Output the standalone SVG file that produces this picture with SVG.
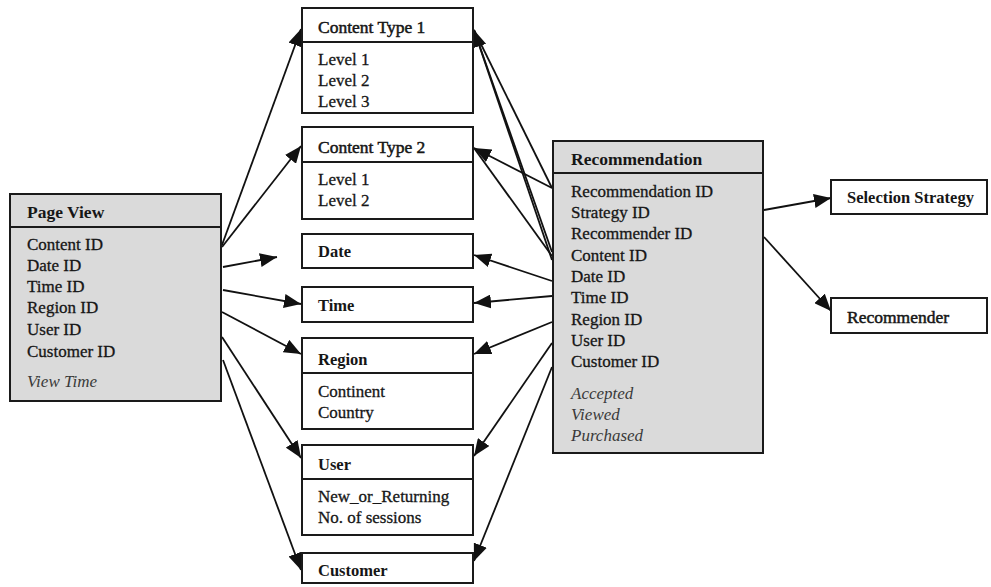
<svg xmlns="http://www.w3.org/2000/svg" width="991" height="587" viewBox="0 0 991 587">
  <style>
    .box { fill: #ffffff; stroke: #1a1a1a; stroke-width: 2; }
    .fact { fill: #dadada; stroke: #1a1a1a; stroke-width: 2; }
    .div { stroke: #1a1a1a; stroke-width: 2; }
    text { font-family: "Liberation Serif", "Times New Roman", serif; fill: #161616; }
    .hd { font-size: 16.5px; font-weight: bold; }
    .hdm { font-size: 17.5px; stroke: #161616; stroke-width: 0.5; }
    .hdl { font-size: 17.5px; font-weight: bold; }
    .at { font-size: 17px; stroke: #161616; stroke-width: 0.3; }
    .me { font-size: 17px; font-style: italic; fill: #3a3a3a; }
    .edge { fill: none; stroke: #111111; stroke-width: 1.8; }
  </style>
  <defs>
    <marker id="arrow" markerUnits="userSpaceOnUse" markerWidth="18" markerHeight="14" refX="17" refY="7" orient="auto">
      <path d="M0,0 L17,7 L0,14 z" fill="#111111"/>
    </marker>
  </defs>
  <rect width="991" height="587" fill="#ffffff"/>

  <g id="connectors">
    <!-- Page View to dimensions -->
    <path class="edge" d="M222,245 L301,29" marker-end="url(#arrow)"/>
    <path class="edge" d="M222,247 L301,146" marker-end="url(#arrow)"/>
    <path class="edge" d="M223,267 L277,257" marker-end="url(#arrow)"/>
    <path class="edge" d="M223,290 L301,304" marker-end="url(#arrow)"/>
    <path class="edge" d="M222,312 L301,354" marker-end="url(#arrow)"/>
    <path class="edge" d="M222,337 L301,458" marker-end="url(#arrow)"/>
    <path class="edge" d="M223,360 L301,570" marker-end="url(#arrow)"/>
    <!-- Recommendation to dimensions -->
    <path class="edge" d="M552,188 L474,30"/>
    <path class="edge" d="M552,252 L474,30"/>
    <path class="edge" d="M552,260 L474,30" marker-end="url(#arrow)"/>
    <path class="edge" d="M552,188 L474,148" marker-end="url(#arrow)"/>
    <path class="edge" d="M552,256 L474,148"/>
    <path class="edge" d="M552,281 L474,255" marker-end="url(#arrow)"/>
    <path class="edge" d="M552,296 L474,303" marker-end="url(#arrow)"/>
    <path class="edge" d="M552,322 L474,354" marker-end="url(#arrow)"/>
    <path class="edge" d="M552,343 L474,456" marker-end="url(#arrow)"/>
    <path class="edge" d="M552,367 L474,561" marker-end="url(#arrow)"/>
    <path class="edge" d="M764,210 L831,198" marker-end="url(#arrow)"/>
    <path class="edge" d="M764,237 L831,311" marker-end="url(#arrow)"/>
  </g>

  <g id="page-view">
    <rect class="fact" x="10" y="194" width="211" height="207"/>
    <line class="div" x1="10" y1="227" x2="221" y2="227"/>
    <text class="hdl" x="27" y="218">Page View</text>
    <text class="at" x="27" y="250">Content ID</text>
    <text class="at" x="27" y="271">Date ID</text>
    <text class="at" x="27" y="292">Time ID</text>
    <text class="at" x="27" y="313">Region ID</text>
    <text class="at" x="27" y="335">User ID</text>
    <text class="at" x="27" y="357">Customer ID</text>
    <text class="me" x="27" y="387">View Time</text>
  </g>

  <g id="content-type-1">
    <rect class="box" x="302" y="8" width="171" height="105"/>
    <line class="div" x1="302" y1="42" x2="473" y2="42"/>
    <text class="hdm" x="318" y="33">Content Type 1</text>
    <text class="at" x="318" y="65">Level 1</text>
    <text class="at" x="318" y="86">Level 2</text>
    <text class="at" x="318" y="107">Level 3</text>
  </g>

  <g id="content-type-2">
    <rect class="box" x="302" y="127" width="171" height="92"/>
    <line class="div" x1="302" y1="162" x2="473" y2="162"/>
    <text class="hdm" x="318" y="153">Content Type 2</text>
    <text class="at" x="318" y="185">Level 1</text>
    <text class="at" x="318" y="206">Level 2</text>
  </g>

  <g id="date">
    <rect class="box" x="302" y="234" width="171" height="34"/>
    <text class="hd" x="318" y="257">Date</text>
  </g>

  <g id="time">
    <rect class="box" x="302" y="287" width="171" height="35"/>
    <text class="hd" x="318" y="311">Time</text>
  </g>

  <g id="region">
    <rect class="box" x="302" y="338" width="171" height="91"/>
    <line class="div" x1="302" y1="373" x2="473" y2="373"/>
    <text class="hd" x="318" y="365">Region</text>
    <text class="at" x="318" y="397">Continent</text>
    <text class="at" x="318" y="418">Country</text>
  </g>

  <g id="user">
    <rect class="box" x="302" y="445" width="171" height="90"/>
    <line class="div" x1="302" y1="479" x2="473" y2="479"/>
    <text class="hd" x="318" y="470">User</text>
    <text class="at" x="318" y="502">New_or_Returning</text>
    <text class="at" x="318" y="523">No. of sessions</text>
  </g>

  <g id="customer">
    <rect class="box" x="302" y="553" width="171" height="30"/>
    <text class="hd" x="318" y="576">Customer</text>
  </g>

  <g id="recommendation">
    <rect class="fact" x="553" y="141" width="210" height="312"/>
    <line class="div" x1="553" y1="173" x2="763" y2="173"/>
    <text class="hdl" x="571" y="165">Recommendation</text>
    <text class="at" x="571" y="197">Recommendation ID</text>
    <text class="at" x="571" y="218">Strategy ID</text>
    <text class="at" x="571" y="239">Recommender ID</text>
    <text class="at" x="571" y="261">Content ID</text>
    <text class="at" x="571" y="282">Date ID</text>
    <text class="at" x="571" y="303">Time ID</text>
    <text class="at" x="571" y="325">Region ID</text>
    <text class="at" x="571" y="346">User ID</text>
    <text class="at" x="571" y="367">Customer ID</text>
    <text class="me" x="571" y="399">Accepted</text>
    <text class="me" x="571" y="420">Viewed</text>
    <text class="me" x="571" y="441">Purchased</text>
  </g>

  <g id="selection-strategy">
    <rect class="box" x="831" y="180" width="156" height="34"/>
    <text class="hd" x="847" y="203">Selection Strategy</text>
  </g>

  <g id="recommender">
    <rect class="box" x="831" y="298" width="156" height="35"/>
    <text class="hdm" x="847" y="323">Recommender</text>
  </g>
</svg>
